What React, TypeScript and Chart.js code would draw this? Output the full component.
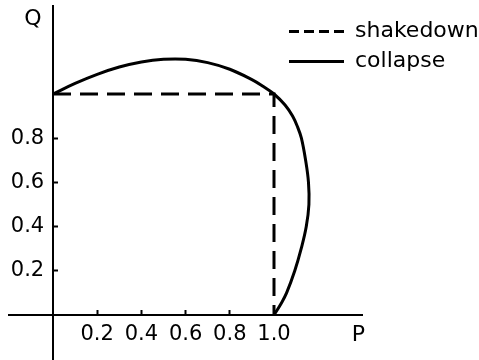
import { useEffect, useRef } from 'react';
import { Chart, registerables } from 'chart.js';

Chart.register(...registerables);

// ---- data ----
const X_TICKS = [0.2, 0.4, 0.6, 0.8, 1.0];
const Y_TICKS = [0.2, 0.4, 0.6, 0.8];
const X_RANGE = [-0.2, 1.4];
const Y_RANGE = [-0.2, 1.4];
const AXIS_X_LABEL = 'P';
const AXIS_Y_LABEL = 'Q';
const SERIES_LABELS = ['shakedown', 'collapse'];

const SHAKEDOWN_P = [0, 1.0, 1.0];
const SHAKEDOWN_Q = [1.0, 1.0, 0];

const COLLAPSE_P = [
  0, 0.1, 0.2, 0.3, 0.4, 0.5, 0.6, 0.7, 0.8, 0.9, 0.95, 1.0,
  1.05, 1.084, 1.107, 1.124, 1.143, 1.156, 1.158, 1.146, 1.123, 1.094, 1.057, 1.031, 1.0,
];
const COLLAPSE_Q = [
  1.0, 1.048, 1.089, 1.122, 1.145, 1.157, 1.157, 1.142, 1.112, 1.065, 1.035, 1.0,
  0.95, 0.9, 0.85, 0.8, 0.7, 0.6, 0.5, 0.4, 0.3, 0.2, 0.1, 0.05, 0,
];

const FONT = '"DejaVu Sans", sans-serif';

const toPoints = (xs: number[], ys: number[]) => xs.map((x, i) => ({ x, y: ys[i] }));

const axisLetters = {
  id: 'axisLetters',
  afterDraw(chart: any, _args: any, opts: any) {
    const { ctx } = chart;
    const x = chart.scales.x;
    const y = chart.scales.y;
    ctx.save();
    ctx.font = `22px ${FONT}`;
    ctx.fillStyle = '#000';
    ctx.textAlign = 'center';
    ctx.textBaseline = 'middle';
    ctx.fillText(opts.yLabel, x.getPixelForValue(0) - 20, y.top + 14);
    ctx.fillText(opts.xLabel, x.right - 4, y.getPixelForValue(0) + 20);
    ctx.restore();
  },
};

const legendPlacer = {
  id: 'legendPlacer',
  afterLayout(chart: any, _args: any, opts: any) {
    const l = chart.legend;
    if (!l) return;
    const w = l.width;
    const h = l.height;
    l.left = opts.left;
    l.top = opts.top;
    l.right = opts.left + w;
    l.bottom = opts.top + h + 200;
  },
};

export default function App() {
  const ref = useRef<HTMLCanvasElement>(null);

  useEffect(() => {
    const canvas = ref.current;
    if (!canvas) return;
    const legendDashes = [[10, 5], []];
    const chart = new Chart(canvas, {
      type: 'scatter',
      data: {
        datasets: [
          {
            label: SERIES_LABELS[0],
            data: toPoints(SHAKEDOWN_P, SHAKEDOWN_Q),
            showLine: true,
            borderColor: '#000',
            backgroundColor: '#000',
            borderWidth: 3,
            borderDash: [18, 9],
            pointRadius: 0,
            tension: 0,
          },
          {
            label: SERIES_LABELS[1],
            data: toPoints(COLLAPSE_P, COLLAPSE_Q),
            showLine: true,
            borderColor: '#000',
            backgroundColor: '#000',
            borderWidth: 3,
            pointRadius: 0,
            tension: 0.4,
          },
        ],
      },
      options: {
        animation: false,
        responsive: false,
        devicePixelRatio: 1,
        layout: { padding: { left: 8.8, right: 116.6, top: 5.6, bottom: 0.8 } },
        scales: {
          x: {
            type: 'linear',
            min: X_RANGE[0],
            max: X_RANGE[1],
            position: { y: 0 } as any,
            afterBuildTicks: (s: any) => {
              s.ticks = X_TICKS.map((v) => ({ value: v }));
            },
            ticks: {
              autoSkip: false,
              maxRotation: 0,
              padding: 13,
              color: '#000',
              font: { family: FONT, size: 21 },
              callback: (v: any) => Number(v).toFixed(1),
            },
            grid: {
              display: true,
              drawOnChartArea: false,
              drawTicks: true,
              tickLength: -6,
              tickColor: '#000',
              tickWidth: 2,
            },
            border: { display: true, color: '#000', width: 2 },
          },
          y: {
            type: 'linear',
            min: Y_RANGE[0],
            max: Y_RANGE[1],
            position: { x: 0 } as any,
            afterBuildTicks: (s: any) => {
              s.ticks = Y_TICKS.map((v) => ({ value: v }));
            },
            ticks: {
              autoSkip: false,
              padding: 0,
              color: '#000',
              font: { family: FONT, size: 21, lineHeight: 0.05 },
              callback: (v: any) => Number(v).toFixed(1) + ' \u200A',
            },
            grid: {
              display: true,
              drawOnChartArea: false,
              drawTicks: true,
              tickLength: -6,
              tickColor: '#000',
              tickWidth: 2,
            },
            border: { display: true, color: '#000', width: 2 },
          },
        },
        plugins: {
          legend: {
            display: true,
            position: 'chartArea',
            align: 'start',
            labels: {
              usePointStyle: true,
              pointStyle: 'line',
              pointStyleWidth: 55,
              padding: 8,
              color: '#000',
              font: { family: FONT, size: 22 },
              generateLabels: (c: any) =>
                c.data.datasets.map((ds: any, i: number) => ({
                  text: ds.label,
                  fillStyle: '#000',
                  strokeStyle: '#000',
                  fontColor: '#000',
                  lineWidth: 3,
                  lineDash: legendDashes[i] || [],
                  pointStyle: 'line',
                  hidden: false,
                  datasetIndex: i,
                })),
            },
          } as any,
          tooltip: { enabled: false },
          legendPlacer: { left: 281, top: 12.5 },
          axisLetters: { xLabel: AXIS_X_LABEL, yLabel: AXIS_Y_LABEL },
        } as any,
      },
      plugins: [legendPlacer, axisLetters],
    });
    return () => chart.destroy();
  }, []);

  return (
    <div style={{ position: 'fixed', left: 0, top: 0, width: 479, height: 360, background: '#fff' }}>
      <canvas ref={ref} width={479} height={360} style={{ display: 'block' }} />
    </div>
  );
}
